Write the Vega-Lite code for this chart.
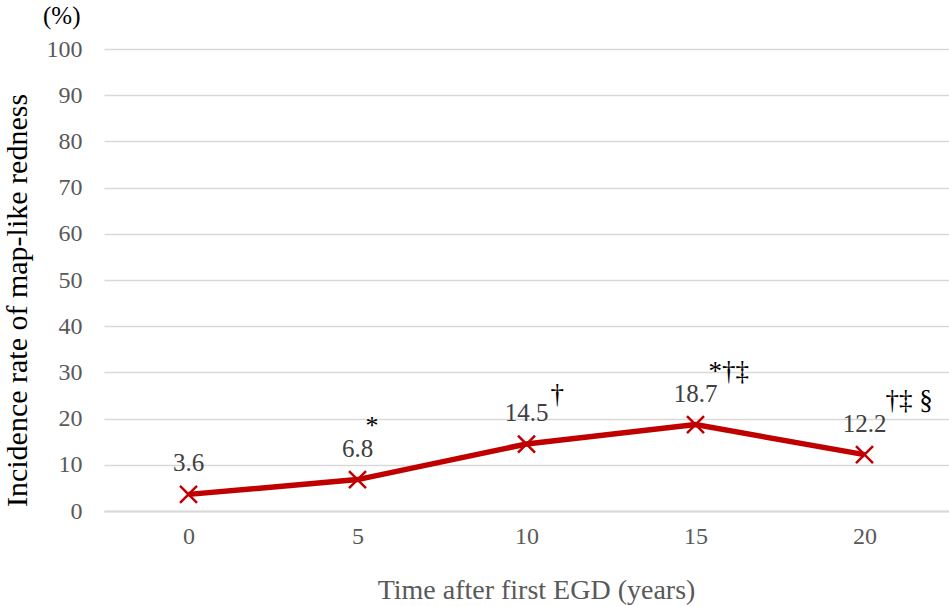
{
  "$schema": "https://vega.github.io/schema/vega-lite/v6.json",
  "width": 845,
  "height": 462,
  "autosize": "none",
  "padding": {"left": 104, "top": 49, "right": 0, "bottom": 95},
  "background": "white",
  "config": {"view": {"stroke": null}, "font": "Liberation Serif"},
  "title": {"text": "(%)", "anchor": "start", "frame": "group", "dx": -61, "offset": 8, "fontSize": 25, "font": "Liberation Serif", "fontWeight": "normal", "color": "#000000"},
  "data": {"values": [
    {"year": 0, "rate": 3.6, "label": "3.6", "mark": ""},
    {"year": 5, "rate": 6.8, "label": "6.8", "mark": "*"},
    {"year": 10, "rate": 14.5, "label": "14.5", "mark": "†"},
    {"year": 15, "rate": 18.7, "label": "18.7", "mark": "*†‡"},
    {"year": 20, "rate": 12.2, "label": "12.2", "mark": "†‡ §"}
  ]},
  "encoding": {
    "x": {"field": "year", "type": "ordinal", "scale": {"type": "point", "padding": 0.5},
      "axis": {"labelAngle": 0, "title": "Time after first EGD (years)", "titleX": 432, "titleFont": "Liberation Serif", "titleFontSize": 28, "titleFontWeight": "normal", "titleColor": "#595959", "titlePadding": 28, "labelFont": "Liberation Serif", "labelFontSize": 24, "labelColor": "#595959", "labelPadding": 13, "ticks": false, "domainColor": "#d9d9d9", "domainWidth": 2, "grid": false}},
    "y": {"field": "rate", "type": "quantitative", "scale": {"domain": [0, 100]},
      "axis": {"values": [0, 10, 20, 30, 40, 50, 60, 70, 80, 90, 100], "title": "Incidence rate of map-like redness", "titleY": 251, "titleFont": "Liberation Serif", "titleFontSize": 30, "titleFontWeight": "normal", "titleColor": "#000000", "titlePadding": 14, "labelFont": "Liberation Serif", "labelFontSize": 24, "labelColor": "#595959", "labelPadding": 22, "ticks": false, "domain": false, "gridColor": "#d9d9d9", "gridWidth": 1.5}}
  },
  "layer": [
    {"mark": {"type": "line", "color": "#C00000", "strokeWidth": 5.5}},
    {"mark": {"type": "point", "shape": "M-1,-1L1,1M-1,1L1,-1", "filled": false, "stroke": "#C00000", "strokeWidth": 2.5, "size": 289, "opacity": 1}},
    {"mark": {"type": "text", "dy": -23, "baseline": "alphabetic", "fontSize": 25, "color": "#404040", "font": "Liberation Serif"}, "encoding": {"text": {"field": "label"}}},
    {"transform": [{"filter": "datum.year == 5"}], "mark": {"type": "text", "align": "left", "dx": 8, "dy": -46, "baseline": "alphabetic", "fontSize": 26, "color": "#000000", "font": "Liberation Serif"}, "encoding": {"text": {"field": "mark"}}},
    {"transform": [{"filter": "datum.year == 10"}], "mark": {"type": "text", "align": "left", "dx": 24, "dy": -41, "baseline": "alphabetic", "fontSize": 27, "color": "#000000", "font": "Liberation Serif"}, "encoding": {"text": {"field": "mark"}}},
    {"transform": [{"filter": "datum.year == 15"}], "mark": {"type": "text", "align": "left", "dx": 13, "dy": -45, "baseline": "alphabetic", "fontSize": 27, "color": "#000000", "font": "Liberation Serif"}, "encoding": {"text": {"field": "mark"}}},
    {"transform": [{"filter": "datum.year == 20"}], "mark": {"type": "text", "align": "left", "dx": 21, "dy": -46, "baseline": "alphabetic", "fontSize": 27, "color": "#000000", "font": "Liberation Serif"}, "encoding": {"text": {"field": "mark"}}}
  ]
}
